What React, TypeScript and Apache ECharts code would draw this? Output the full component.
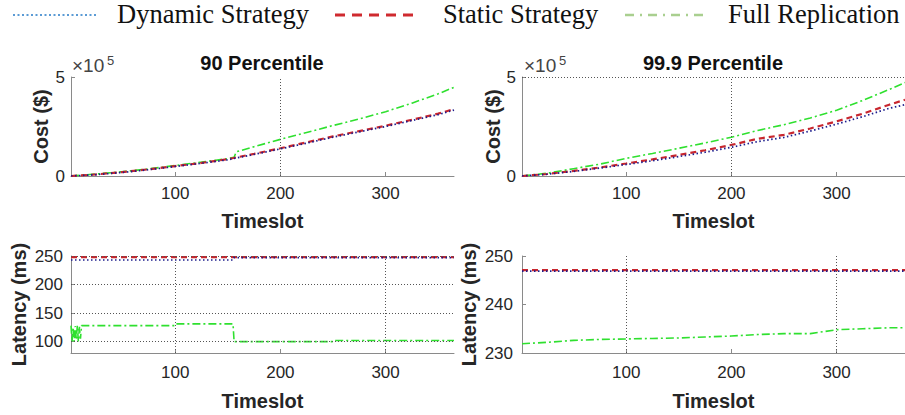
import React, { useEffect, useRef } from "react";
import * as echarts from "echarts";

// ---------- data ----------
const timeslotTicks = [100, 200, 300];
const costTicks = [0, 5];
const latency90Ticks = [100, 150, 200, 250];
const latency999Ticks = [230, 240, 250];

const legendNames = ["Dynamic Strategy", "Static Strategy", "Full Replication"];
const titles = ["90 Percentile", "99.9 Percentile"];

const costT = [1, 25, 50, 75, 100, 125, 150, 175, 200, 225, 250, 275, 300, 325, 350, 365];
// Cost, 90 percentile (x 10^5 $)
const cost90FullT = [1, 25, 50, 75, 100, 125, 150, 156, 158, 175, 200, 225, 250, 275, 300, 325, 350, 365];
const cost90Full = [0, 0.1, 0.22, 0.36, 0.53, 0.7, 0.88, 0.95, 1.22, 1.48, 1.85, 2.2, 2.55, 2.88, 3.25, 3.68, 4.15, 4.48];
const cost90Static = [0, 0.08, 0.2, 0.34, 0.5, 0.66, 0.85, 1.12, 1.4, 1.7, 2.0, 2.27, 2.54, 2.84, 3.15, 3.38];
const cost90Dynamic = [0, 0.07, 0.18, 0.32, 0.48, 0.64, 0.82, 1.09, 1.37, 1.66, 1.96, 2.23, 2.5, 2.8, 3.1, 3.33];
// Cost, 99.9 percentile (x 10^5 $)
const cost999Full = [0, 0.14, 0.37, 0.6, 0.89, 1.14, 1.4, 1.67, 1.96, 2.3, 2.59, 2.93, 3.32, 3.82, 4.37, 4.72];
const cost999Static = [0, 0.1, 0.26, 0.43, 0.63, 0.84, 1.06, 1.3, 1.57, 1.88, 2.08, 2.4, 2.76, 3.15, 3.6, 3.85];
const cost999Dynamic = [0, 0.09, 0.23, 0.4, 0.58, 0.77, 0.98, 1.2, 1.45, 1.74, 1.95, 2.27, 2.62, 3.0, 3.42, 3.6];

// Latency, 90 percentile (ms)
const lat90StaticT = [1, 365];
const lat90Static = [248, 248];
const lat90DynamicT = [1, 155, 156, 365];
const lat90Dynamic = [243, 243, 247, 247];
const lat90FullT = [1, 2, 3, 4, 5, 6, 7, 8, 9, 10, 11, 100, 101, 155, 156, 250, 251, 365];
const lat90Full = [128, 100, 125, 100, 127, 103, 128, 100, 126, 105, 128, 128, 131, 131, 100, 100, 102, 102];

// Latency, 99.9 percentile (ms)
const lat999StaticT = [1, 365];
const lat999Static = [247.1, 247.1];
const lat999DynamicT = [1, 365];
const lat999Dynamic = [246.9, 246.9];
const lat999Full = [231.9, 232.2, 232.6, 232.8, 232.9, 233.0, 233.1, 233.3, 233.5, 233.8, 234.0, 234.0, 234.8, 235.0, 235.2, 235.2];

// ---------- helpers ----------
const zip = (xs: number[], ys: number[]) => xs.map((x, i) => [x, ys[i]]);

const SANS = "'Liberation Sans', Arial, Helvetica, sans-serif";
const SERIF = "'Liberation Serif', 'Times New Roman', serif";
const AXIS_COLOR = "#8a8a8a";
const TEXT_COLOR = "#262626";

const COL_DYN = "#1c1c8c";
const COL_STA = "#c8262e";
const COL_FULL = "#2fe02f";

const lineDyn = { color: COL_DYN, width: 1.7, type: [1.5, 2.5] as any };
const lineSta = { color: COL_STA, width: 2.2, type: [6, 4] as any };
const lineFull = { color: COL_FULL, width: 1.6, type: [8, 3, 2, 3] as any };

function refLines(xs: number[], ys: number[]) {
  return {
    silent: true,
    symbol: ["none", "none"],
    label: { show: false },
    lineStyle: { type: [1, 2] as any, color: "#555", width: 1 },
    emphasis: { disabled: true },
    data: [...xs.map((v) => ({ xAxis: v })), ...ys.map((v) => ({ yAxis: v }))],
  };
}

function xAxisCfg(gridIndex: number, labelMargin: number, nameGap: number) {
  return {
    type: "value",
    gridIndex,
    min: 1,
    max: 365,
    name: "Timeslot",
    nameLocation: "middle",
    nameGap,
    nameTextStyle: { fontFamily: SANS, fontSize: 20, fontWeight: "bold", color: TEXT_COLOR },
    axisLine: { show: true, lineStyle: { color: AXIS_COLOR, width: 1 } },
    axisTick: { show: true, inside: true, length: 4, customValues: timeslotTicks, lineStyle: { color: AXIS_COLOR } },
    axisLabel: { customValues: timeslotTicks, margin: labelMargin, fontFamily: SANS, fontSize: 17, color: TEXT_COLOR },
    splitLine: { show: false },
  };
}

function yAxisCfg(gridIndex: number, min: number, max: number, ticks: number[], name: string, nameGap: number, labelMargin: number) {
  return {
    type: "value",
    gridIndex,
    min,
    max,
    name,
    nameLocation: "middle",
    nameGap,
    nameTextStyle: { fontFamily: SANS, fontSize: 20, fontWeight: "bold", color: TEXT_COLOR },
    axisLine: { show: true, lineStyle: { color: AXIS_COLOR, width: 1 } },
    axisTick: { show: true, inside: true, length: 4, customValues: ticks, lineStyle: { color: AXIS_COLOR } },
    axisLabel: { customValues: ticks, margin: labelMargin, fontFamily: SANS, fontSize: 17, color: TEXT_COLOR },
    splitLine: { show: false },
  };
}

function lineSeries(name: string, idx: number, data: number[][], style: any, extra: any = {}) {
  return {
    type: "line",
    name,
    xAxisIndex: idx,
    yAxisIndex: idx,
    data,
    showSymbol: false,
    symbol: "none",
    lineStyle: style,
    silent: true,
    ...extra,
  };
}

export default function App() {
  const ref = useRef<HTMLDivElement>(null);

  useEffect(() => {
    if (!ref.current) return;
    const chart = echarts.init(ref.current, undefined, { renderer: "svg" });

    const legendY = 15;
    const legendItems = [
      { x1: 13, x2: 97, tx: 117, text: legendNames[0], color: "#5b9bd5", dash: [2, 2.5], width: 2.2 },
      { x1: 335, x2: 420, tx: 443, text: legendNames[1], color: "#cf2a2f", dash: [10, 7], width: 3 },
      { x1: 625, x2: 708, tx: 728, text: legendNames[2], color: "#a9cf8f", dash: [9, 6, 2, 6], width: 2.4 },
    ];

    const graphics: any[] = [];
    legendItems.forEach((it) => {
      graphics.push({
        type: "line",
        shape: { x1: it.x1, y1: legendY, x2: it.x2, y2: legendY },
        style: { stroke: it.color, lineWidth: it.width, lineDash: it.dash },
        silent: true,
      });
      graphics.push({
        type: "text",
        x: it.tx,
        y: 14,
        style: { text: it.text, fontFamily: SERIF, fontSize: 26.5, fill: "#111", verticalAlign: "middle", align: "left" },
        silent: true,
      });
    });
    // titles
    [
      { x: 262, text: titles[0] },
      { x: 713, text: titles[1] },
    ].forEach((t) => {
      graphics.push({
        type: "text",
        x: t.x,
        y: 63,
        style: { text: t.text, fontFamily: SANS, fontSize: 20, fontWeight: "bold", fill: "#111", align: "center", verticalAlign: "middle" },
        silent: true,
      });
    });
    // x10^5 exponent labels
    [72, 524].forEach((x) => {
      graphics.push({
        type: "text",
        x,
        y: 75,
        style: { text: "×10", fontFamily: SANS, fontSize: 19, fill: "#444", align: "left", verticalAlign: "bottom" },
        silent: true,
      });
      graphics.push({
        type: "text",
        x: x + 35,
        y: 67,
        style: { text: "5", fontFamily: SANS, fontSize: 13, fill: "#444", align: "left", verticalAlign: "bottom" },
        silent: true,
      });
    });

    const option: any = {
      animation: false,
      backgroundColor: "#ffffff",
      grid: [
        { left: 71, top: 77, width: 383, height: 99 },
        { left: 522, top: 77, width: 384, height: 99 },
        { left: 71, top: 256, width: 383, height: 97 },
        { left: 522, top: 256, width: 384, height: 97 },
      ],
      xAxis: [xAxisCfg(0, 9, 35), xAxisCfg(1, 9, 35), xAxisCfg(2, 11, 38), xAxisCfg(3, 11, 38)],
      yAxis: [
        yAxisCfg(0, 0, 5, costTicks, "Cost ($)", 20, 6),
        yAxisCfg(1, 0, 5, costTicks, "Cost ($)", 19, 6),
        yAxisCfg(2, 80, 250, latency90Ticks, "Latency (ms)", 42, 8),
        yAxisCfg(3, 230, 250, latency999Ticks, "Latency (ms)", 43, 9),
      ],
      series: [
        // 90 percentile cost
        lineSeries(legendNames[2], 0, zip(cost90FullT, cost90Full), lineFull, { markLine: refLines([200], []) }),
        lineSeries(legendNames[1], 0, zip(costT, cost90Static), lineSta),
        lineSeries(legendNames[0], 0, zip(costT, cost90Dynamic), lineDyn),
        // 99.9 percentile cost
        lineSeries(legendNames[2], 1, zip(costT, cost999Full), lineFull, { markLine: refLines([200], [5]) }),
        lineSeries(legendNames[1], 1, zip(costT, cost999Static), lineSta),
        lineSeries(legendNames[0], 1, zip(costT, cost999Dynamic), lineDyn),
        // 90 percentile latency
        lineSeries(legendNames[2], 2, zip(lat90FullT, lat90Full), lineFull, { markLine: refLines([100, 300], [100, 150, 200, 250]) }),
        lineSeries(legendNames[1], 2, zip(lat90StaticT, lat90Static), lineSta),
        lineSeries(legendNames[0], 2, zip(lat90DynamicT, lat90Dynamic), lineDyn),
        // 99.9 percentile latency
        lineSeries(legendNames[2], 3, zip(costT, lat999Full), lineFull, { markLine: refLines([100, 300], []) }),
        lineSeries(legendNames[1], 3, zip(lat999StaticT, lat999Static), lineSta),
        lineSeries(legendNames[0], 3, zip(lat999DynamicT, lat999Dynamic), lineDyn),
      ],
      graphic: graphics,
    };

    chart.setOption(option);
    return () => chart.dispose();
  }, []);

  return (
    <div
      ref={ref}
      style={{ position: "absolute", left: 0, top: 0, width: 905, height: 415, background: "#fff" }}
    />
  );
}
